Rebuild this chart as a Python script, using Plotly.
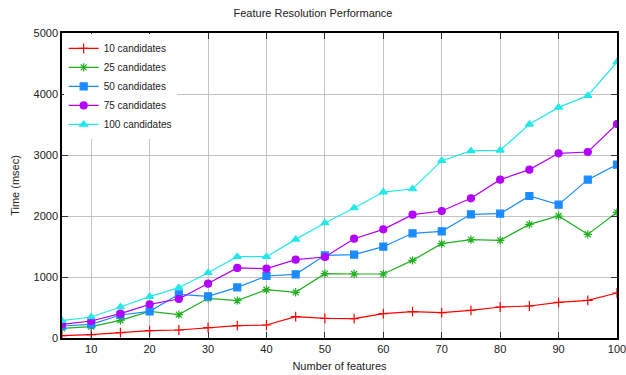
import plotly.graph_objects as go

features = [5, 10, 15, 20, 25, 30, 35, 40, 45, 50, 55, 60, 65, 70, 75, 80, 85, 90, 95, 100]

c10 = [38, 55, 87, 120, 131, 169, 202, 213, 350, 322, 317, 399, 432, 415, 454, 508, 525, 585, 617, 738]
c25 = [158, 186, 290, 437, 383, 650, 612, 792, 749, 1055, 1049, 1049, 1273, 1546, 1612, 1601, 1863, 2000, 1699, 2060]
c50 = [197, 224, 377, 437, 716, 683, 831, 1016, 1044, 1355, 1366, 1497, 1716, 1749, 2027, 2038, 2328, 2186, 2596, 2842]
c75 = [224, 279, 399, 552, 639, 891, 1148, 1137, 1284, 1328, 1628, 1781, 2022, 2082, 2290, 2596, 2760, 3027, 3049, 3508]
c100 = [284, 344, 508, 678, 825, 1071, 1333, 1333, 1617, 1885, 2131, 2393, 2443, 2907, 3066, 3077, 3503, 3781, 3973, 4525]

series_names = ["10 candidates", "25 candidates", "50 candidates", "75 candidates", "100 candidates"]
series_values = [c10, c25, c50, c75, c100]
colors = ["#ff0000", "#20b020", "#1a8cff", "#b300ff", "#22e8e8"]
symbols = ["cross-thin-open", "asterisk-open", "square", "circle", "triangle-up"]
sizes = [7, 7, 7, 7, 7]

x_ticks = [10, 20, 30, 40, 50, 60, 70, 80, 90, 100]
y_ticks = [0, 1000, 2000, 3000, 4000, 5000]

fig = go.Figure()
for name, vals, col, sym, sz in zip(series_names, series_values, colors, symbols, sizes):
    fig.add_trace(go.Scatter(
        x=features, y=vals, name=name, mode="lines+markers",
        line=dict(color=col, width=1.2),
        marker=dict(symbol=sym, size=sz, color=col, line=dict(color=col, width=1.2)),
    ))

axis_common = dict(
    showline=True, linecolor="#000000", linewidth=1.5, mirror="ticks",
    ticks="inside", ticklen=6, tickcolor="#333333", tickwidth=1,
    showgrid=True, gridcolor="#c4c4c4", gridwidth=1.3, zeroline=False,
    automargin=False, ticklabeloverflow="allow",
    tickfont=dict(family="Liberation Sans, Arial, sans-serif", size=11, color="#222222"),
)

fig.update_layout(
    width=626, height=375,
    margin=dict(l=62, r=9, t=33, b=37),
    paper_bgcolor="white", plot_bgcolor="white",
    title=dict(text="Feature Resolution Performance", x=0.5, xanchor="center",
               y=0.965, yanchor="middle",
               font=dict(family="Liberation Sans, Arial, sans-serif", size=11, color="#222222")),
    font=dict(family="Liberation Sans, Arial, sans-serif", size=11, color="#222222"),
    xaxis=dict(range=[5, 100], tickvals=x_ticks,
               title=dict(text="Number of features", standoff=8,
                          font=dict(size=11)), **axis_common),
    yaxis=dict(range=[0, 5000], tickvals=y_ticks,
               title=dict(text="Time (msec)", standoff=12,
                          font=dict(size=11)), **axis_common),
    legend=dict(x=0.003, y=0.997, xanchor="left", yanchor="top",
                bgcolor="white", borderwidth=0, itemwidth=30,
                tracegroupgap=0, font=dict(size=10, color="#222222")),
)

fig.write_html("out.html", config={"displayModeBar": False},
               post_script="document.body.style.margin='0';document.body.style.padding='0';")
